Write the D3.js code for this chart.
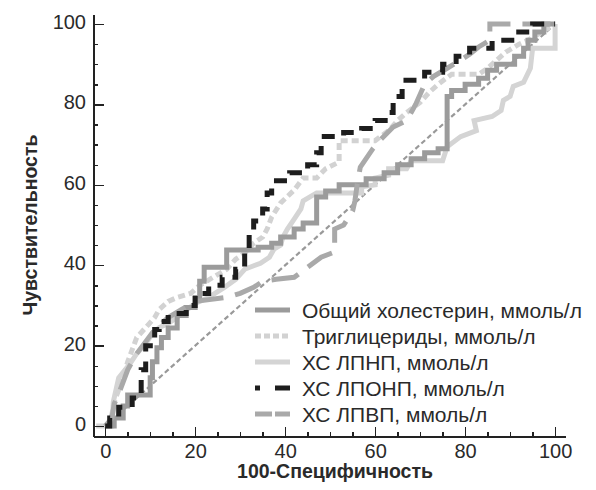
<!DOCTYPE html>
<meta charset="utf-8">
<head>
  <title>ROC curves</title>
</head>

<style>
body {
  margin: 0;
  background: #fff;
}

svg text {
  font-family: "Liberation Sans", Arial, Helvetica, sans-serif;
  fill: #2a2a2a;
}

.axis path, .axis line {
  stroke: #222;
  stroke-width: 1.4;
  shape-rendering: crispEdges;
}

.axis text {
  font-size: 20px;
}

.title {
  font-size: 19.5px;
  font-weight: bold;
}

.legend text {
  font-size: 21px;
}

.curve {
  fill: none;
  stroke-width: 5;
  stroke-linejoin: miter;
  stroke-linecap: butt;
}
</style>

<body>
  <svg width="596" height="490"></svg>

  <script src="https://cdnjs.cloudflare.com/ajax/libs/d3/7.8.5/d3.min.js"></script>

  <script>
// [100 - specificity, sensitivity]
var totalChol = [
  [0,0],[2,0],[2,2],[4,2],[4,5],[5,5],[5,7.7],[10,7.7],[10,12],[10.5,12],[10.5,16],[11.5,16],
  [11.5,19.5],[12.5,19.5],[12.5,22],[14,22],[14,24.4],[16,24.4],[16,27.5],[18,27.5],[18,29.5],
  [20,29.5],[20,32],[21,32],[21,36],[22,36],[22,39.5],[27,39.5],[27,43.8],[34,43.8],[34,44.5],
  [37,44.5],[37,45.5],[39,45.5],[39,47],[42,47],[42,49],[44,49],[44,50.5],[47,50.5],[47,57],
  [49,57],[49,58.5],[52,58.5],[52,60],[58,60],[58,61.5],[62,61.5],[62,63],[65,63],[65,65],
  [68,65],[68,66.5],[71,66.5],[71,68],[74,68],[74,69],[76,69],[76,82],[77,82],[77,83.5],
  [80,83.5],[80,85],[83,85],[83,86.5],[85,86.5],[85,88.5],[87,88.5],[87,90],[91,90],[91,92],
  [93,92],[93,94],[94,94],[94,96],[95.5,96],[95.5,98],[97.5,98],[97.5,100],[100,100]
];

var triglycerides = [
  [0,0],[1,1],[1.5,3],[2,6],[3,9],[4,12],[5,16],[6,19],[7,22],[9,24.5],[11,27],[12,29],
  [14,31],[16,32],[19,33],[21,35],[24,37],[27,39],[29,41.5],[31,43],[33,45.5],[35,47],[36,49],
  [37,52],[39,55.5],[42,58.7],[44,61.7],[47,61.7],[49,64],[52,65.7],[52,71],[60,71],[63,73.5],
  [65,76],[67,78],[70,80.5],[72,83],[74,85],[77,87.5],[83,87.5],[85,89],[87,91],[89,93],
  [92,95],[94,96],[97,98],[100,100]
];

var ldl = [
  [-2,0],[1.5,0],[1.8,6],[3,12],[5.5,15.5],[7,18],[9,20.5],[10.5,23],[12,24.5],[14,25.5],
  [16.5,27.5],[20,30.5],[23,32],[26.5,34.5],[29,36.5],[31,39],[34.5,40.5],[36.5,42],[37.5,44],
  [39,45],[39.5,47],[40.5,49],[42,51.5],[43.5,54],[44,56],[47,58],[57,58],[57,59.5],[60,60],
  [60,61.7],[63,62.4],[63,64],[67,64],[68,66],[75,66],[76,69.5],[79,72],[82.5,73.5],[82,76],
  [86,77],[88,78.5],[88.5,81],[90,82],[90.7,84.5],[93,85.5],[94.5,89],[95,94],[100,94],[100,100]
];

var vldl = [
  [0,0],[1,0],[1,2],[3,2],[3,4.7],[6,4.7],[6,7],[8,7],[8,14],[9,14],[9,20],[11,20],[11,24],
  [12,24],[12,26],[14,26],[14,28],[18,28],[18,30],[20,30],[20,33],[23,33],[23,35],[26,35],
  [26,37],[29,37],[29,39],[31,39],[31,43],[32,43],[32,48],[33,48],[33,51],[35,51],[35,54],
  [36,54],[36,58],[37,58],[37,61],[41,61],[41,63],[45,63],[45,65],[47,65],[47,68],[48,68],
  [48,72],[53,72],[53,73],[57,73],[57,74],[60,74],[60,76],[63,76],[63,78],[64,78],[64,82],
  [66,82],[66,86],[71,86],[71,88],[75,88],[75,90],[78,90],[78,92],[81,92],[81,94],[86,94],
  [86,96],[91,96],[91,98],[95,98],[95,100],[100,100]
];

var hdl = [
  [0,0],[1.5,2],[2,5.5],[3,8],[4,11],[5,14],[7,18],[9,21],[11,24],[14,27],[17,29],[20,31],
  [27,32],[30,33],[33,34.5],[35,36],[38,36.5],[42,37],[45,39.5],[48,42],[51,43.3],[51,49],
  [53,50],[55,53.5],[55.5,56],[56,60],[56.7,64.4],[59.5,69],[61,71],[64,74.4],[67,76],
  [69,80],[71,85],[73,87],[76,89],[79,91],[81,92.5],[83,94.3],[85.5,96],[85.5,100],[100,100]
];

var chance = [[0,0],[100,100]];

var seriesNames = [
  'Общий холестерин, ммоль/л',
  'Триглицериды, ммоль/л',
  'ХС ЛПНП, ммоль/л',
  'ХС ЛПОНП, ммоль/л',
  'ХС ЛПВП, ммоль/л'
];

var majorTicks = [0, 20, 40, 60, 80, 100];
var minorTicks = d3.range(0, 101, 5);

var xTitle = '100-Специфичность';
var yTitle = 'Чувствительность';

// styles per series, same order as seriesNames
var styles = [
  {data: totalChol,     color: '#9b9b9b', dash: null,     legendDash: null},
  {data: triglycerides, color: '#d2d2d2', dash: '7,4',    legendDash: '6,3'},
  {data: ldl,           color: '#d4d4d4', dash: null,     legendDash: null},
  {data: vldl,          color: '#1d1d1d', dash: '13,10',  legendDash: '5,15,15,0'},
  {data: hdl,           color: '#a9a9a9', dash: '28,12',  legendDash: '17,3'}
];

var svg = d3.select('svg');

var x = d3.scaleLinear().domain([-2.6, 102.2]).range([93.5, 565]);
var y = d3.scaleLinear().domain([-2.6, 102.5]).range([436.5, 14]);

var line = d3.line()
  .x(function(d) { return x(d[0]); })
  .y(function(d) { return y(d[1]); });

// chance diagonal
svg.append('path')
  .attr('d', line(chance))
  .attr('fill', 'none')
  .attr('stroke', '#999')
  .attr('stroke-width', 2.2)
  .attr('stroke-dasharray', '5,3');

// draw order: light ones first, black on top
var drawOrder = [2, 1, 0, 4, 3];
drawOrder.forEach(function(i) {
  var s = styles[i];
  svg.append('path')
    .attr('class', 'curve')
    .attr('d', line(s.data))
    .attr('stroke', s.color)
    .attr('stroke-dasharray', s.dash);
});

// axes: minor ticks without labels, major ticks with labels
svg.append('g').attr('class', 'axis')
  .attr('transform', 'translate(0,' + y.range()[0] + ')')
  .call(d3.axisBottom(x).tickValues(minorTicks).tickSizeInner(-4.5).tickSizeOuter(0).tickFormat(''));
var xMajor = svg.append('g').attr('class', 'axis')
  .attr('transform', 'translate(0,' + y.range()[0] + ')')
  .call(d3.axisBottom(x).tickValues(majorTicks).tickSizeInner(-10).tickSizeOuter(0).tickPadding(7));
xMajor.select('.domain').remove();

svg.append('g').attr('class', 'axis')
  .attr('transform', 'translate(' + x.range()[0] + ',0)')
  .call(d3.axisLeft(y).tickValues(minorTicks).tickSizeInner(-4.5).tickSizeOuter(0).tickFormat(''));
var yMajor = svg.append('g').attr('class', 'axis')
  .attr('transform', 'translate(' + x.range()[0] + ',0)')
  .call(d3.axisLeft(y).tickValues(majorTicks).tickSizeInner(-10).tickSizeOuter(0).tickPadding(7.5));
yMajor.select('.domain').remove();

svg.selectAll('.axis text')
  .attr('font-family', null)
  .attr('font-size', null)
  .attr('fill', '#2a2a2a');
yMajor.selectAll('text').attr('y', -2);

// axis titles
svg.append('text')
  .attr('class', 'title')
  .attr('x', 335)
  .attr('y', 478)
  .attr('text-anchor', 'middle')
  .text(xTitle);

svg.append('text')
  .attr('class', 'title')
  .attr('transform', 'translate(37,225) rotate(-90)')
  .attr('text-anchor', 'middle')
  .text(yTitle);

// legend
var legendY = d3.scalePoint().domain(d3.range(seriesNames.length)).range([310, 414]);

var legend = svg.append('g').attr('class', 'legend');
var rows = legend.selectAll('g')
  .data(styles)
  .enter()
  .append('g')
  .attr('transform', function(d, i) { return 'translate(0,' + legendY(i) + ')'; });

rows.append('line')
  .attr('x1', 255).attr('x2', 290)
  .attr('y1', 0).attr('y2', 0)
  .attr('stroke', function(d) { return d.color; })
  .attr('stroke-width', 5)
  .attr('stroke-dasharray', function(d) { return d.legendDash; });

rows.append('text')
  .attr('x', 302)
  .attr('y', 7.5)
  .text(function(d, i) { return seriesNames[i]; });
  </script>
</body>
</html>
